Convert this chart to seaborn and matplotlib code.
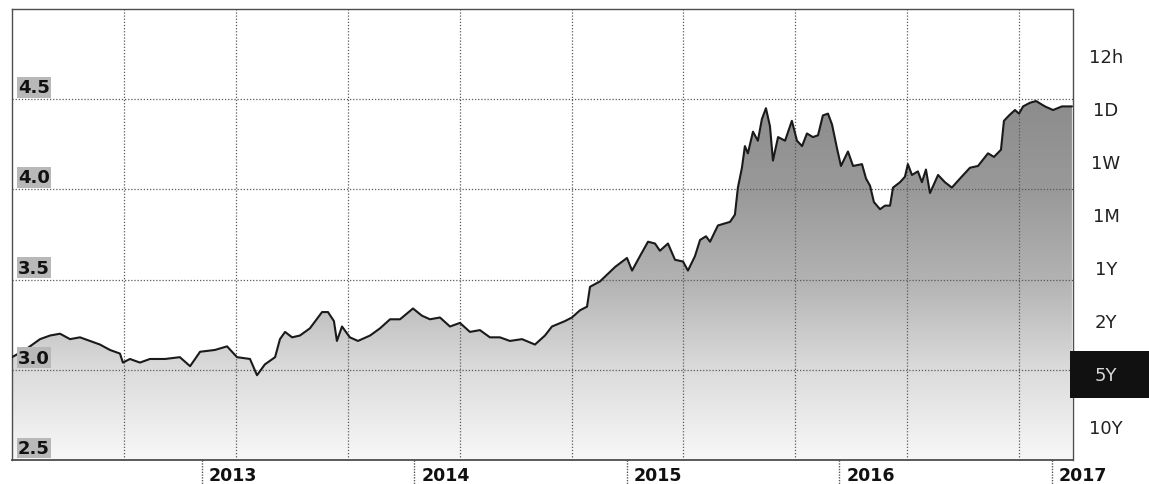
import numpy as np
import pandas as pd
import matplotlib
matplotlib.use("Agg")
import matplotlib.pyplot as plt
import matplotlib.transforms as mtransforms
from matplotlib.colors import LinearSegmentedColormap
from matplotlib.patches import Rectangle
import seaborn as sns

# ---------------------------------------------------------------------
# Values (decimal years, price level)
# ---------------------------------------------------------------------
years = [2012.106, 2012.167, 2012.238, 2012.285, 2012.332, 2012.379, 2012.426, 2012.473,
         2012.520, 2012.567, 2012.614, 2012.628, 2012.661, 2012.708, 2012.755, 2012.826,
         2012.896, 2012.944, 2012.991, 2013.061, 2013.118, 2013.165, 2013.226, 2013.259,
         2013.296, 2013.344, 2013.367, 2013.391, 2013.424, 2013.461, 2013.508, 2013.565,
         2013.593, 2013.621, 2013.635, 2013.659, 2013.696, 2013.734, 2013.791, 2013.838,
         2013.885, 2013.932, 2013.993, 2014.035, 2014.073, 2014.120, 2014.167, 2014.214,
         2014.261, 2014.308, 2014.355, 2014.402, 2014.449, 2014.506, 2014.567, 2014.614,
         2014.647, 2014.708, 2014.741, 2014.779, 2014.812, 2014.826, 2014.873, 2014.944,
         2015.000, 2015.024, 2015.061, 2015.099, 2015.132, 2015.155, 2015.193, 2015.226,
         2015.264, 2015.287, 2015.320, 2015.344, 2015.372, 2015.391, 2015.428, 2015.485,
         2015.508, 2015.522, 2015.541, 2015.555, 2015.569, 2015.593, 2015.616, 2015.635,
         2015.654, 2015.673, 2015.687, 2015.711, 2015.744, 2015.776, 2015.800, 2015.824,
         2015.847, 2015.875, 2015.899, 2015.922, 2015.946, 2015.965, 2015.988, 2016.007,
         2016.040, 2016.064, 2016.106, 2016.125, 2016.144, 2016.162, 2016.191, 2016.214,
         2016.238, 2016.252, 2016.285, 2016.308, 2016.322, 2016.341, 2016.369, 2016.388,
         2016.407, 2016.426, 2016.464, 2016.496, 2016.529, 2016.567, 2016.614, 2016.652,
         2016.699, 2016.727, 2016.760, 2016.774, 2016.798, 2016.826, 2016.845, 2016.864,
         2016.896, 2016.925, 2016.967, 2017.005, 2017.047, 2017.094]
values = [3.07, 3.11, 3.17, 3.19, 3.20, 3.17, 3.18, 3.16,
          3.14, 3.11, 3.09, 3.04, 3.06, 3.04, 3.06, 3.06,
          3.07, 3.02, 3.10, 3.11, 3.13, 3.07, 3.06, 2.97,
          3.03, 3.07, 3.17, 3.21, 3.18, 3.19, 3.23, 3.32,
          3.32, 3.27, 3.16, 3.24, 3.18, 3.16, 3.19, 3.23,
          3.28, 3.28, 3.34, 3.30, 3.28, 3.29, 3.24, 3.26,
          3.21, 3.22, 3.18, 3.18, 3.16, 3.17, 3.14, 3.19,
          3.24, 3.27, 3.29, 3.33, 3.35, 3.46, 3.49, 3.57,
          3.62, 3.55, 3.63, 3.71, 3.70, 3.66, 3.70, 3.61,
          3.60, 3.55, 3.63, 3.72, 3.74, 3.71, 3.80, 3.82,
          3.86, 4.01, 4.12, 4.24, 4.20, 4.32, 4.27, 4.39,
          4.45, 4.35, 4.16, 4.29, 4.27, 4.38, 4.27, 4.24,
          4.31, 4.29, 4.30, 4.41, 4.42, 4.36, 4.23, 4.13,
          4.21, 4.13, 4.14, 4.06, 4.02, 3.93, 3.89, 3.91,
          3.91, 4.01, 4.04, 4.07, 4.14, 4.08, 4.10, 4.04,
          4.11, 3.98, 4.08, 4.04, 4.01, 4.06, 4.12, 4.13,
          4.20, 4.18, 4.22, 4.38, 4.41, 4.44, 4.42, 4.46,
          4.48, 4.49, 4.46, 4.44, 4.46, 4.46]

y_ticks = [2.5, 3.0, 3.5, 4.0, 4.5]
y_labels = ["2.5", "3.0", "3.5", "4.0", "4.5"]
x_ticks = [2013, 2014, 2015, 2016, 2017]
x_labels = ["2013", "2014", "2015", "2016", "2017"]
buttons = ["12h", "1D", "1W", "1M", "1Y", "2Y", "5Y", "10Y"]
active = "5Y"

df = pd.DataFrame({"year": years, "value": values})

sns.set_theme(style="white")
plt.rcParams["font.family"] = ["DejaVu Sans"]

W, H = 1149, 485
fig = plt.figure(figsize=(W / 100, H / 100), dpi=100)
ax = fig.add_axes([12 / W, 24 / H, 1061 / W, 451 / H])

x0, x1 = 2012.106, 2017.099
ax.set_xlim(x0, x1)
ax.set_ylim(2.5, 5.0)

# gradient fill clipped to the area under the curve
area = ax.fill_between(df["year"], df["value"], 2.5, color="none", lw=0)
cmap = LinearSegmentedColormap.from_list(
    "fill", [(0.0, "0.97"), (0.2, "0.86"), (0.4, "0.70"), (0.6, "0.60"), (0.8, "0.55"), (1.0, "0.50")])
grad = np.linspace(0, 1, 256).reshape(-1, 1)
im = ax.imshow(grad, extent=[x0, x1, 2.5, 5.0], origin="lower", aspect="auto",
               cmap=cmap, vmin=0, vmax=1, zorder=1)
im.set_clip_path(area.get_paths()[0], transform=ax.transData)

# dotted grid
for v in y_ticks[1:]:
    ax.axhline(v, color="0.35", lw=0.9, ls=(0, (1, 1.5)), zorder=2)
for gx in np.arange(2012.633, 2017.0, 0.5265):
    ax.axvline(gx, color="0.35", lw=0.9, ls=(0, (1, 1.5)), zorder=2)

sns.lineplot(data=df, x="year", y="value", color="#1a1a1a", lw=1.5, ax=ax, zorder=3)
ax.set_xlabel("")
ax.set_ylabel("")

# frame
for side in ["top", "left", "right"]:
    ax.spines[side].set_linestyle((0, (1, 1)))
    ax.spines[side].set_color("0.3")
    ax.spines[side].set_linewidth(1)
ax.spines["bottom"].set_color("0.3")
ax.spines["bottom"].set_linewidth(1.3)

# y labels inside the plot, in grey boxes
ax.set_yticks([])
ylab_tr = mtransforms.blended_transform_factory(ax.transAxes, ax.transData)
for v, lab in zip(y_ticks, y_labels):
    ax.annotate(lab, xy=(0, v), xycoords=ylab_tr, xytext=(6, 3), textcoords="offset pixels",
                ha="left", va="bottom", fontsize=13, fontweight="bold", color="#111",
                bbox=dict(boxstyle="square,pad=0.08", fc="0.72", ec="none"), zorder=5)

# x ticks: dotted tick marks, labels to the right of them
ax.set_xticks(x_ticks)
ax.set_xticklabels(x_labels, ha="left", fontsize=12.5, fontweight="bold", color="#111")
ax.tick_params(axis="x", length=0, pad=4)
shift = mtransforms.ScaledTranslation(7 / 100, 0, fig.dpi_scale_trans)
for lbl in ax.get_xticklabels():
    lbl.set_transform(lbl.get_transform() + shift)
for xt in x_ticks:
    ax.plot([xt, xt], [0, -0.055], transform=ax.get_xaxis_transform(), color="0.35",
            lw=1, ls=(0, (1, 1)), clip_on=False)

# range buttons on the right
for i, b in enumerate(buttons):
    yc = 58 + i * 53.0
    if b == active:
        fig.add_artist(Rectangle((1070 / W, 1 - (yc + 23) / H), 79 / W, 47 / H,
                                 transform=fig.transFigure, fc="#111", ec="none"))
        col = "0.85"
    else:
        col = "#222"
    fig.text(1106 / W, 1 - yc / H, b, ha="center", va="center", fontsize=13, color=col)

fig.savefig("out.png", dpi=100)
